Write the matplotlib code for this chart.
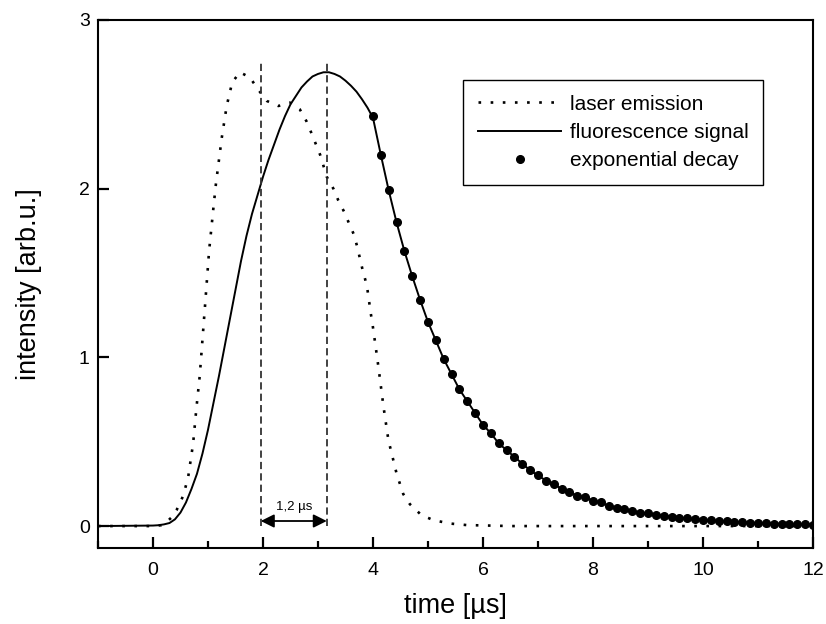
import numpy as np
import matplotlib
matplotlib.use('Agg')
import matplotlib.pyplot as plt
from matplotlib.ticker import MultipleLocator

plt.rcParams['font.family'] = ['Liberation Sans', 'DejaVu Sans']

# laser emission (dotted)
laser_t = [-1, 0.0, 0.15, 0.25, 0.35, 0.43, 0.55, 0.64, 0.73, 0.79, 0.85, 0.945,
           1.02, 1.10, 1.145, 1.25, 1.34, 1.44, 1.58, 1.76, 1.93, 2.07, 2.28, 2.49,
           2.67, 2.79, 2.88, 3.04, 3.16, 3.28, 3.37, 3.48, 3.57, 3.65, 3.71, 3.76,
           3.81, 3.86, 3.90, 3.93, 3.96, 3.99, 4.05, 4.10, 4.19, 4.28, 4.43, 4.55,
           4.67, 4.88, 5.10, 5.40, 5.70, 6.5, 12]
laser_y = [0, 0, 0.005, 0.025, 0.055, 0.095, 0.18, 0.29, 0.49, 0.70, 0.89, 1.30,
           1.63, 1.89, 2.03, 2.30, 2.49, 2.63, 2.69, 2.66, 2.58, 2.52, 2.49, 2.51,
           2.47, 2.40, 2.33, 2.20, 2.07, 2.00, 1.93, 1.86, 1.79, 1.73, 1.66, 1.59,
           1.52, 1.46, 1.40, 1.33, 1.26, 1.20, 1.06, 0.94, 0.71, 0.51, 0.31, 0.19,
           0.13, 0.065, 0.035, 0.015, 0.006, 0.0, 0.0]

# exponential decay fit points
decay_t = np.linspace(4, 12, 57)
decay_y = [2.43, 2.20, 1.99, 1.80, 1.63, 1.48, 1.34, 1.21, 1.10, 0.99, 0.90, 0.81,
           0.74, 0.67, 0.60, 0.55, 0.49, 0.45, 0.41, 0.37, 0.33, 0.30, 0.27, 0.25,
           0.22, 0.20, 0.18, 0.17, 0.15, 0.14, 0.12, 0.11, 0.10, 0.09, 0.08, 0.075,
           0.068, 0.061, 0.055, 0.050, 0.045, 0.041, 0.037, 0.034, 0.030, 0.028,
           0.025, 0.023, 0.020, 0.019, 0.017, 0.015, 0.014, 0.013, 0.011, 0.010, 0.009]

# fluorescence signal (solid), rising part; tail follows the decay
rise_t = [-1, 0.0, 0.1, 0.2, 0.3, 0.4, 0.5, 0.6, 0.7, 0.8, 0.9, 1.0, 1.1, 1.2, 1.3,
          1.4, 1.5, 1.6, 1.7, 1.8, 1.9, 2.0, 2.1, 2.2, 2.3, 2.4, 2.5, 2.6, 2.7, 2.8,
          2.9, 3.0, 3.1, 3.2, 3.3, 3.4, 3.5, 3.6, 3.7, 3.8, 3.9, 4.0]
rise_y = [0, 0.003, 0.005, 0.01, 0.018, 0.04, 0.08, 0.14, 0.22, 0.31, 0.43, 0.57,
          0.73, 0.89, 1.06, 1.23, 1.40, 1.57, 1.72, 1.85, 1.96, 2.07, 2.17, 2.26,
          2.35, 2.43, 2.50, 2.55, 2.60, 2.635, 2.665, 2.68, 2.69, 2.69, 2.68, 2.665,
          2.64, 2.61, 2.575, 2.53, 2.48, 2.42]
fluor_t = list(rise_t) + list(decay_t[1:])
fluor_y = list(rise_y) + list(decay_y[1:])

peak_laser = 1.96
peak_fluor = 3.16

fig = plt.figure(figsize=(8.26, 6.24), dpi=100)
ax = fig.add_axes([0.1186, 0.1218, 0.8657, 0.8462])

ax.plot(laser_t, laser_y, color='black', lw=1.9, linestyle=(0, (1, 3.6)),
        label='laser emission')
ax.plot(fluor_t, fluor_y, color='black', lw=1.4, label='fluorescence signal')
ax.plot(decay_t, decay_y, 'o', color='black', markersize=5.5, label='exponential decay')

for xv in [peak_laser, peak_fluor]:
    ax.plot([xv, xv], [0, 2.75], color='#333333', lw=1.3, linestyle=(0, (4, 2.3)))

ax.annotate('', xy=(peak_fluor, 0.03), xytext=(peak_laser, 0.03),
            arrowprops=dict(arrowstyle='<|-|>', color='black', lw=1.3,
                            mutation_scale=20, shrinkA=0, shrinkB=0))
ax.text((peak_laser + peak_fluor) / 2, 0.075, '1,2 µs', ha='center', va='bottom',
        fontsize=9.5)

ax.set_xlim(-1, 12)
ax.set_ylim(-0.13, 3)
ax.xaxis.set_major_locator(MultipleLocator(2))
ax.xaxis.set_minor_locator(MultipleLocator(1))
ax.yaxis.set_major_locator(MultipleLocator(1))

for s in ax.spines.values():
    s.set_linewidth(1.5)
ax.tick_params(axis='both', which='major', direction='in', length=8, width=1.6,
               labelsize=14, top=False, right=False)
ax.tick_params(axis='x', which='major', pad=10)
ax.tick_params(axis='y', which='major', pad=6)
ax.tick_params(axis='x', which='minor', direction='in', length=5, width=1.6, top=False)

ax.set_xlabel('time [µs]', fontsize=19.5)
ax.set_ylabel('intensity [arb.u.]', fontsize=19.5)
ax.xaxis.set_label_coords(0.5, -0.085)
ax.yaxis.set_label_coords(-0.078, 0.5)

leg = ax.legend(loc='upper right', bbox_to_anchor=(0.930, 0.886), fontsize=15,
                frameon=True, fancybox=False, edgecolor='black', framealpha=1,
                borderpad=0.7, handlelength=4.0, handletextpad=0.4,
                labelspacing=0.45, borderaxespad=0)
leg.get_frame().set_linewidth(1.0)

plt.savefig('out.png', dpi=100)
